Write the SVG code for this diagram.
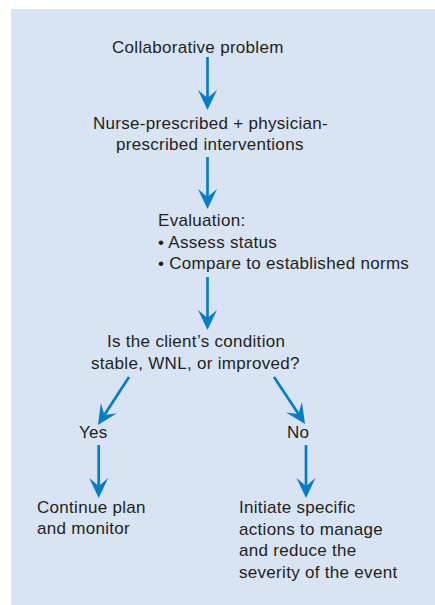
<svg xmlns="http://www.w3.org/2000/svg" width="435" height="605" viewBox="0 0 435 605">
  <style>
    .t { font-family: "Liberation Sans", Arial, Helvetica, sans-serif; font-size: 17px; fill: #231f20; letter-spacing: 0.3px; }
    .c { stroke: #0a7cc4; stroke-width: 2.7; fill: none; marker-end: url(#ah); }
  </style>
  <defs>
    <marker id="ah" markerUnits="userSpaceOnUse" viewBox="-21 -11 22 22" markerWidth="22" markerHeight="22" refX="-10" refY="0" orient="auto">
      <path d="M0,0 L-20,-9.5 L-12,0 L-20,9.5 Z" fill="#0a7cc4"/>
    </marker>
  </defs>
  <rect x="11" y="9" width="424" height="596" fill="#d8e3f3"/>
  <g id="connectors">
    <line class="c" x1="207.5" y1="57" x2="207.5" y2="100"/>
    <line class="c" x1="207.5" y1="157" x2="207.5" y2="199"/>
    <line class="c" x1="207.5" y1="277" x2="207.5" y2="320"/>
    <line class="c" x1="129" y1="377" x2="103.4" y2="416.6"/>
    <line class="c" x1="274" y1="377" x2="299.5" y2="415.6"/>
    <line class="c" x1="98.7" y1="445" x2="98.7" y2="488"/>
    <line class="c" x1="306" y1="445" x2="306" y2="488"/>
  </g>
  <g id="problem"><text class="t" x="112" y="53">Collaborative problem</text></g>
  <g id="interventions">
    <text class="t" x="93" y="129">Nurse-prescribed + physician-</text>
    <text class="t" x="116" y="150">prescribed interventions</text>
  </g>
  <g id="evaluation">
    <text class="t" x="158" y="226">Evaluation:</text>
    <text class="t" x="158" y="248">• Assess status</text>
    <text class="t" x="158" y="269">• Compare to established norms</text>
  </g>
  <g id="decision">
    <text class="t" x="107" y="347">Is the client’s condition</text>
    <text class="t" x="91" y="369">stable, WNL, or improved?</text>
  </g>
  <g id="yes"><text class="t" x="79" y="438">Yes</text></g>
  <g id="no"><text class="t" x="287" y="438">No</text></g>
  <g id="continue">
    <text class="t" x="37" y="513">Continue plan</text>
    <text class="t" x="37" y="534">and monitor</text>
  </g>
  <g id="initiate">
    <text class="t" x="239" y="513">Initiate specific</text>
    <text class="t" x="239" y="534.5">actions to manage</text>
    <text class="t" x="239" y="556">and reduce the</text>
    <text class="t" x="239" y="577.5">severity of the event</text>
  </g>
</svg>
